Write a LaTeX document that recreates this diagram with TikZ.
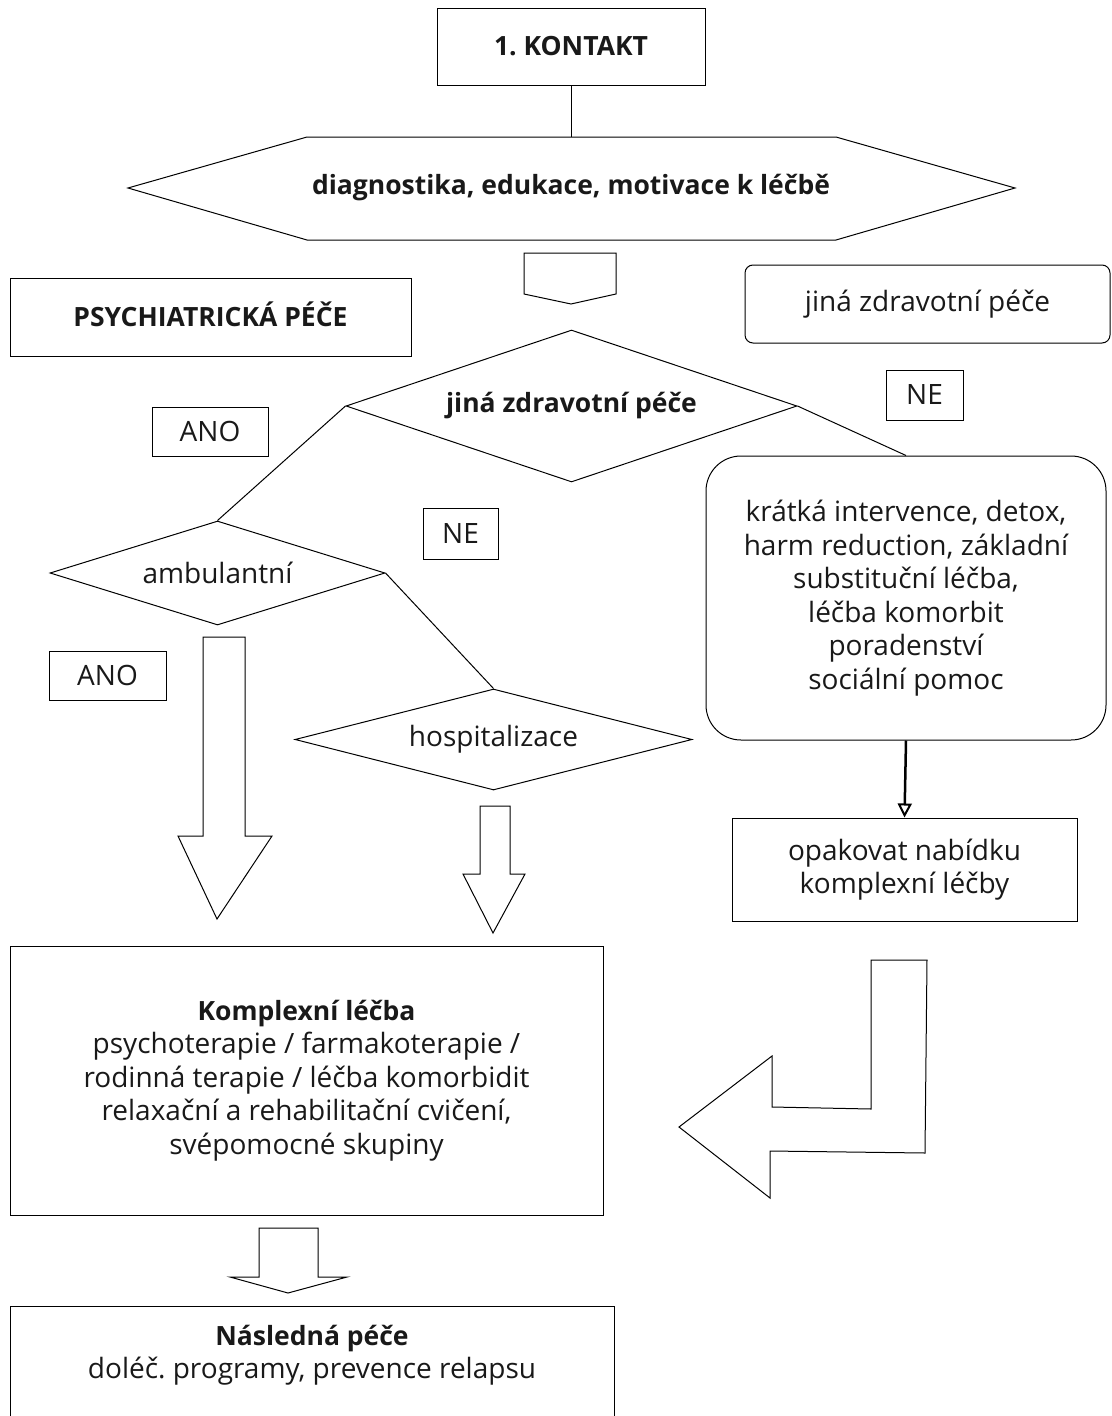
\documentclass[tikz,border=0pt]{standalone}
\usepackage{fontspec}
\setmainfont{Open Sans}
\usetikzlibrary{shapes.geometric,arrows.meta}
\frenchspacing
\newcommand\headtxt[1]{{\fontsize{26.5}{33}\selectfont\bfseries #1}}
\begin{document}
\begin{tikzpicture}[x=1pt,y=-1pt,
  every node/.style={font=\fontsize{28}{33.5}\selectfont, align=center, text=black!90},
  box/.style={draw, line width=1pt, inner sep=0pt, align=center},
  tag/.style={box},
  decision/.style={diamond, aspect=3, draw, line width=1pt, inner sep=0pt},
  link/.style={line width=1pt},
  blockarrow/.style={draw, line width=1pt, fill=white, line join=miter}
]
\useasboundingbox (0,0) rectangle (1111,1416);

% entry box and the assessment band below it
\node[box, minimum width=268, minimum height=77] (kontakt) at (571,46.5) {\headtxt{1. KONTAKT}};
\draw[line width=1pt] (128,188) -- (307,137) -- (836,137) -- (1015,188) -- (836,240) -- (307,240) -- cycle;
\coordinate (hextop) at (571,137);
\node (hex) at (571,188) {\headtxt{diagnostika, edukace, motivace k léčbě}};
\draw[link] (kontakt.south) -- (hextop);

% small downward pointer under the band
\draw[blockarrow] (524,253) -- (616,253) -- (616,294) -- (571,304) -- (524,294) -- cycle;

% headings of the two branches
\node[box, minimum width=401, minimum height=78] (psych) at (210.5,317) {\raisebox{5pt}{\headtxt{PSYCHIATRICKÁ PÉČE}}};
\node[box, rounded corners=8pt, minimum width=365, minimum height=78] (jina) at (927.5,304) {jiná zdravotní péče};

% decisions
\node[decision, minimum width=451, minimum height=152] (dJina) at (571.5,406) {\headtxt{jiná zdravotní péče}};
\node[decision, minimum width=335, minimum height=104] (dAmb) at (217.5,573) {ambulantní};
\node[decision, minimum width=397, minimum height=101] (dHosp) at (493.5,739.5) {hospitalizace};

% answer tags
\node[tag, minimum width=116, minimum height=49] (ano1) at (210,431.5) {ANO};
\node[tag, minimum width=75, minimum height=51] (ne1) at (460.5,533.5) {NE};
\node[tag, minimum width=77, minimum height=50] (ne2) at (924.5,395) {NE};
\node[tag, minimum width=117, minimum height=49] (ano2) at (107.5,675.5) {ANO};

% other health care path
\node[box, rounded corners=35pt, minimum width=400, minimum height=284] (interv) at (906,598)
  {krátká intervence, detox,\\harm reduction, základní\\substituční léčba,\\léčba komorbit\\poradenství\\sociální pomoc};
\node[box, minimum width=345, minimum height=103] (opak) at (904.5,869.5) {opakovat nabídku\\komplexní léčby};

% treatment and aftercare
\node[box, minimum width=593, minimum height=269] (komplex) at (306.5,1080.5)
  {\headtxt{Komplexní léčba}\\psychoterapie / farmakoterapie /\\rodinná terapie / léčba komorbidit\\relaxační a rehabilitační cvičení,\\svépomocné skupiny};
\node[box, anchor=north, minimum width=604, minimum height=140] (nasl) at (312,1306) {};
\node (naslText) at (312,1355) {\headtxt{Následná péče}\\doléč. programy, prevence relapsu};

% connectors
\draw[link] (dAmb.north) -- (dJina.west);
\draw[link] (dAmb.east) -- (dHosp.north);
\draw[link] (dJina.east) -- (interv.north);
\draw[line width=2.5pt, -{Triangle[open, length=14pt, width=14pt, line width=2pt]}] (interv.south) -- (opak.north);

% block arrows
\draw[blockarrow] (203,637) -- (245,637) -- (245,836) -- (272,836) -- (217,919) -- (178,836) -- (203,836) -- cycle;
\draw[blockarrow] (480,806) -- (510,806) -- (510,874) -- (525,874) -- (493,933) -- (463,874) -- (480,874) -- cycle;
\draw[blockarrow] (259,1228) -- (318,1228) -- (318,1277) -- (347,1277) -- (288,1293) -- (230,1277) -- (259,1277) -- cycle;
\draw[blockarrow] (679,1127) -- (772,1056) -- (772,1107) -- (871,1109) -- (871,960) -- (927,960)
  -- (925,1153) -- (770,1151) -- (770,1198) -- cycle;
\end{tikzpicture}
\end{document}
